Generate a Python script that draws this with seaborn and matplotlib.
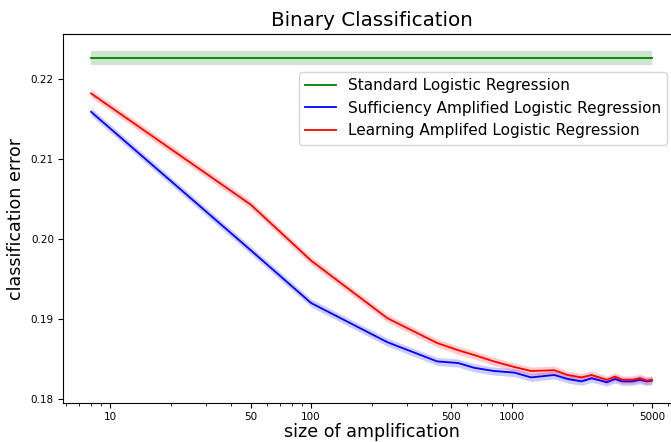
import matplotlib
matplotlib.use("Agg")
import matplotlib.pyplot as plt
import seaborn as sns
import pandas as pd

plt.rcParams["font.family"] = ["DejaVu Sans"]

# amplification sizes (log axis)
sizes = [8, 50, 100, 240, 425, 540, 650, 815, 1030, 1250, 1630, 1900,
         2230, 2500, 2980, 3270, 3550, 4000, 4360, 4690, 5000]

learning_err = [0.2182, 0.2043, 0.1973, 0.1901, 0.1870, 0.1861, 0.1855, 0.1847,
                0.1840, 0.1835, 0.1836, 0.1830, 0.1827, 0.1830, 0.1824, 0.1828,
                0.1824, 0.1824, 0.1826, 0.1823, 0.1824]
sufficiency_err = [0.2159, 0.1986, 0.1920, 0.1871, 0.1847, 0.1845, 0.1839, 0.1835,
                   0.1833, 0.1827, 0.1830, 0.1825, 0.1822, 0.1826, 0.1821, 0.1825,
                   0.1822, 0.1822, 0.1824, 0.1822, 0.1823]
standard_x = [8, 5000]
standard_err = [0.2226, 0.2226]

# half-width of the shaded bands
standard_band = 0.0009
sufficiency_band = 0.0005
learning_band = 0.0005

df = pd.DataFrame({"size": sizes, "learning": learning_err, "sufficiency": sufficiency_err})

fig = plt.figure(figsize=(6.71, 4.42), dpi=100)
ax = fig.add_axes([63 / 671, 39 / 442, 617 / 671, 369 / 442])

series = [
    (standard_x, standard_err, standard_band, "green", "Standard Logistic Regression"),
    (df["size"], df["sufficiency"], sufficiency_band, "blue", "Sufficiency Amplified Logistic Regression"),
    (df["size"], df["learning"], learning_band, "red", "Learning Amplifed Logistic Regression"),
]
for xs, ys, band, color, label in series:
    sns.lineplot(x=xs, y=ys, color=color, label=label, ax=ax, linewidth=1.3)
    lo = [v - band for v in ys]
    hi = [v + band for v in ys]
    ax.fill_between(xs, lo, hi, color=color, alpha=0.2, linewidth=0)

ax.set_xscale("log")
ax.set_ylim(0.1795, 0.22563)
ax.set_xticks([10, 50, 100, 500, 1000, 5000])
ax.set_xticklabels(["10", "50", "100", "500", "1000", "5000"])
ax.set_yticks([0.18, 0.19, 0.20, 0.21, 0.22])
ax.set_yticklabels(["0.18", "0.19", "0.20", "0.21", "0.22"])
ax.tick_params(labelsize=7.5, pad=3)

ax.set_title("Binary Classification", fontsize=14.3)
ax.set_xlabel("size of amplification", fontsize=12.6, labelpad=1)
ax.set_ylabel("classification error", fontsize=12.6)

ax.legend(loc="upper right", bbox_to_anchor=(604 / 617, 331 / 369),
          borderaxespad=0, fontsize=11)

fig.savefig("out.png", dpi=100)
